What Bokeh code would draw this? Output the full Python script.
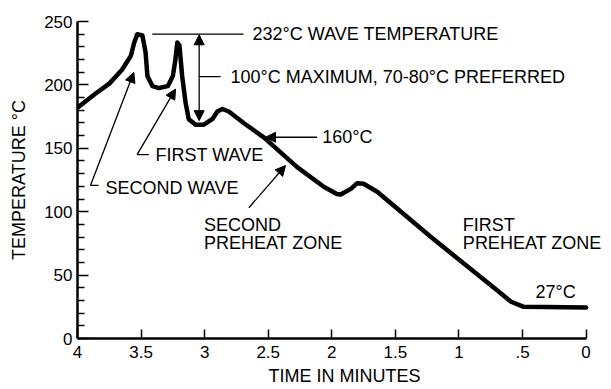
from bokeh.plotting import figure
from bokeh.models import Range1d, FixedTicker, Label, Arrow, NormalHead
from bokeh.embed import file_html
from bokeh.resources import INLINE

# ---- data ----
time_min = [4.0, 3.86, 3.75, 3.65, 3.58, 3.555, 3.53, 3.49, 3.465, 3.45, 3.41,
            3.36, 3.29, 3.25, 3.23, 3.215, 3.198, 3.177, 3.15, 3.125, 3.07,
            3.01, 2.94, 2.90, 2.86, 2.81, 2.68, 2.535, 2.27, 2.06, 1.96, 1.93,
            1.85, 1.80, 1.75, 1.64, 1.22, 0.70, 0.59, 0.49, 0.0]
temp_c = [182, 193, 201, 212, 223, 233, 240, 239, 226, 207, 199,
          197.5, 199, 207, 220, 233.5, 231, 207, 186, 173, 168.5,
          168.5, 173, 179, 181, 179, 169, 158.6, 135, 119.5, 114, 113.5,
          118, 122.5, 122, 115.5, 80, 38, 29, 25, 24.5]

x_ticks = [0, 0.5, 1, 1.5, 2, 2.5, 3, 3.5, 4]
x_tick_labels = ["0", ".5", "1", "1.5", "2", "2.5", "3", "3.5", "4"]
y_ticks = [0, 50, 100, 150, 200, 250]
y_minor = [10, 20, 30, 40, 60, 70, 80, 90, 110, 120, 130, 140,
           160, 170, 180, 190, 210, 220, 230, 240]

FONT = "Liberation Sans"

p = figure(width=611, height=389, output_backend="svg", toolbar_location=None,
           x_range=Range1d(4, -0.2), y_range=Range1d(0, 250),
           min_border_left=77, min_border_right=0, min_border_top=21,
           min_border_bottom=51)
p.outline_line_color = None
p.xgrid.visible = False
p.ygrid.visible = False
p.background_fill_color = "white"
p.border_fill_color = "white"

# axes
xa = p.xaxis[0]
xa.ticker = FixedTicker(ticks=x_ticks, minor_ticks=[])
xa.major_label_overrides = {t: l for t, l in zip(x_ticks, x_tick_labels)}
xa.axis_label = "TIME IN MINUTES"
xa.bounds = (0, 4)
ya = p.yaxis[0]
ya.ticker = FixedTicker(ticks=y_ticks, minor_ticks=y_minor)
ya.axis_label = "TEMPERATURE °C"

for ax in (xa, ya):
    ax.axis_line_width = 2.5
    ax.axis_line_color = "black"
    ax.major_tick_line_color = "black"
    ax.major_tick_line_width = 1.5
    ax.minor_tick_line_color = "black"
    ax.minor_tick_line_width = 1.5
    ax.major_tick_out = 0
    ax.minor_tick_out = 0
    ax.major_label_text_font = FONT
    ax.major_label_text_font_size = "17px"
    ax.major_label_text_color = "black"
    ax.axis_label_text_font = FONT
    ax.axis_label_text_font_size = "18px"
    ax.axis_label_text_font_style = "normal"
    ax.axis_label_text_color = "black"

xa.major_tick_in = 9
xa.minor_tick_in = 0
xa.major_label_standoff = 7
xa.axis_label_standoff = 5
ya.major_tick_in = 11
ya.minor_tick_in = 7
ya.major_label_standoff = 5
ya.axis_label_standoff = 12

# the temperature profile
p.line(time_min, temp_c, line_width=4.5, line_color="black",
       line_join="round", line_cap="round")

# ---- annotations ----
LW = 1.3


def label(x, y, text):
    p.add_layout(Label(x=x, y=y, text=text, text_font=FONT,
                       text_font_size="18px", text_color="black",
                       text_align="left", text_baseline="middle"))


def arrow(x0, y0, x1, y1):
    head = NormalHead(size=10, fill_color="black", line_color="black", line_width=1)
    p.add_layout(Arrow(x_start=x0, y_start=y0, x_end=x1, y_end=y1,
                       line_width=LW, line_color="black", end=head, start=None))


# 232 °C wave temperature
p.segment(x0=[3.412], y0=[240], x1=[2.694], y1=[240], line_width=LW, line_color="black")
label(2.623, 240, "232°C WAVE TEMPERATURE")

# 100 °C maximum
arrow(3.043, 205, 3.043, 239.5)
arrow(3.043, 205, 3.043, 171.8)
p.segment(x0=[3.043], y0=[206.5], x1=[2.875], y1=[206.5], line_width=LW, line_color="black")
label(2.796, 206.5, "100°C MAXIMUM, 70-80°C PREFERRED")

# 160 °C
arrow(2.115, 158.7, 2.521, 158.7)
label(2.075, 158.7, "160°C")

# first wave
p.segment(x0=[3.531], y0=[145], x1=[3.439], y1=[145], line_width=LW, line_color="black")
arrow(3.531, 145, 3.229, 196.7)
label(3.386, 144.5, "FIRST WAVE")

# second wave
p.segment(x0=[3.898], y0=[120.7], x1=[3.835], y1=[120.7], line_width=LW, line_color="black")
arrow(3.898, 120.7, 3.557, 209.9)
label(3.78, 118.3, "SECOND WAVE")

# second preheat zone
arrow(2.652, 103.1, 2.364, 136.4)
label(3.006, 89.2, "SECOND")
label(3.006, 75.2, "PREHEAT ZONE")

# first preheat zone
label(0.969, 89.2, "FIRST")
label(0.969, 75.2, "PREHEAT ZONE")

# end temperature
label(0.397, 36.7, "27°C")

open("out.html", "w").write(file_html(p, INLINE))
